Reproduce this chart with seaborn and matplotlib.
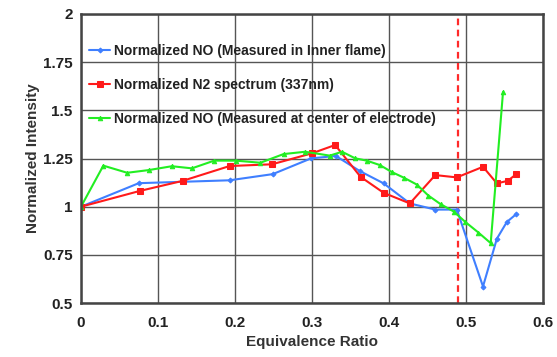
import pandas as pd
import seaborn as sns
import matplotlib.pyplot as plt

# values
no_inner_x = [0, 0.075, 0.193, 0.249, 0.299, 0.331, 0.362, 0.393, 0.427, 0.46, 0.488, 0.522, 0.540, 0.553, 0.565]
no_inner_y = [1.0, 1.122, 1.137, 1.169, 1.251, 1.263, 1.185, 1.121, 1.017, 0.985, 0.985, 0.586, 0.834, 0.921, 0.961]

n2_x = [0, 0.0766, 0.132, 0.193, 0.248, 0.30, 0.33, 0.363, 0.393, 0.427, 0.46, 0.488, 0.522, 0.54, 0.554, 0.565]
n2_y = [1.0, 1.082, 1.134, 1.211, 1.22, 1.277, 1.32, 1.155, 1.072, 1.017, 1.164, 1.152, 1.207, 1.121, 1.134, 1.168]

no_center_x = [0, 0.029, 0.060, 0.088, 0.118, 0.144, 0.173, 0.201, 0.233, 0.263, 0.291, 0.323, 0.339,
               0.356, 0.371, 0.388, 0.404, 0.419, 0.436, 0.451, 0.467, 0.484, 0.499, 0.516, 0.532, 0.548]
no_center_y = [1.0, 1.213, 1.176, 1.19, 1.21, 1.199, 1.239, 1.239, 1.228, 1.273, 1.285, 1.265, 1.285,
               1.251, 1.239, 1.216, 1.179, 1.151, 1.115, 1.058, 1.013, 0.975, 0.921, 0.866, 0.811, 1.595]

series_names = ["Normalized NO (Measured in Inner flame)",
                "Normalized N2 spectrum (337nm)",
                "Normalized NO (Measured at center of electrode)"]
colors = ["#3f7fff", "#ff1a1a", "#22ee22"]
markers = ["D", "s", "^"]
marker_sizes = [2.5, 4, 3.2]

phi_cut = 0.489

y_ticks = [0.5, 0.75, 1, 1.25, 1.5, 1.75, 2]
y_labels = ["0.5", "0.75", "1", "1.25", "1.5", "1.75", "2"]
x_ticks = [0, 0.1, 0.2, 0.3, 0.4, 0.5, 0.6]
x_labels = ["0", "0.1", "0.2", "0.3", "0.4", "0.5", "0.6"]

sns.set_style("white")
plt.rcParams['font.family'] = ['Liberation Sans', 'DejaVu Sans']
plt.rcParams['font.weight'] = 'bold'

fig = plt.figure(figsize=(5.57, 3.57), dpi=100)
ax = fig.add_axes([0.1454, 0.151, 0.8296, 0.81])

all_x = [no_inner_x, n2_x, no_center_x]
all_y = [no_inner_y, n2_y, no_center_y]
for xs, ys, name, c, m, ms in zip(all_x, all_y, series_names, colors, markers, marker_sizes):
    df = pd.DataFrame({"phi": xs, "val": ys})
    sns.lineplot(data=df, x="phi", y="val", sort=False, color=c, marker=m,
                 markersize=ms, markeredgecolor=c, linewidth=1.5, label=name, ax=ax)

ax.axvline(phi_cut, color="#ff2a2a", linestyle=(0, (3, 2)), linewidth=1.6, zorder=1)

ax.set_xlim(0, 0.6)
ax.set_ylim(0.5, 2)
ax.set_xticks(x_ticks)
ax.set_xticklabels(x_labels)
ax.set_yticks(y_ticks)
ax.set_yticklabels(y_labels)
ax.grid(True, color="#555555", linewidth=1.0)
ax.set_axisbelow(True)
for s in ax.spines.values():
    s.set_color("#444444")
    s.set_linewidth(1.8)
ax.tick_params(axis="both", labelsize=11, colors="#222222", length=4, width=1.2, direction="out", pad=2)
ax.tick_params(axis="x", pad=5)

ax.set_xlabel("Equivalence Ratio", fontsize=11, fontweight="bold", color="#333333")
ax.set_ylabel("Normalized Intensity", fontsize=11, fontweight="bold", color="#333333", labelpad=2)

leg = ax.legend(loc="upper left", frameon=False, fontsize=10, handlelength=1.5,
                handletextpad=0.3, labelspacing=1.45, borderaxespad=0.2,
                bbox_to_anchor=(0.0, 0.925))
for t in leg.get_texts():
    t.set_fontweight("bold")
    t.set_color("#222222")

fig.savefig("out.png", dpi=100)
